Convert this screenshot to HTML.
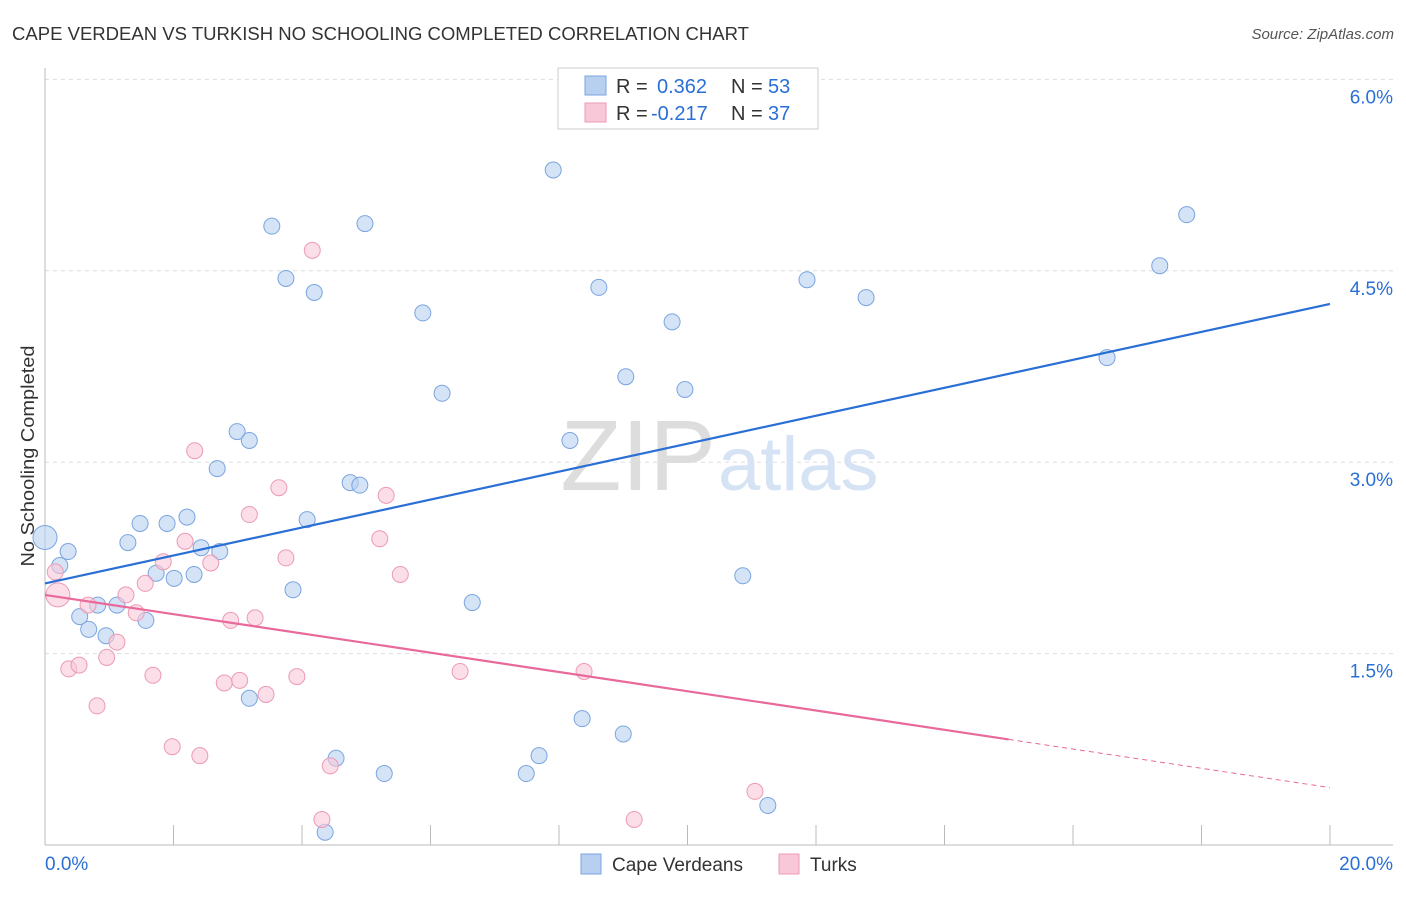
<!DOCTYPE html>
<html><head><meta charset="utf-8"><style>
body{margin:0;background:#fff;font-family:"Liberation Sans",sans-serif}
svg text{font-family:"Liberation Sans",sans-serif}
</style></head><body>
<svg id="chart" width="1406" height="892">
<text x="12" y="40" font-size="18" fill="#333" textLength="737" lengthAdjust="spacingAndGlyphs">CAPE VERDEAN VS TURKISH NO SCHOOLING COMPLETED CORRELATION CHART</text>
<text x="1394" y="39" font-size="15" fill="#555" text-anchor="end" font-style="italic">Source: ZipAtlas.com</text>
<text x="34" y="456" font-size="18" fill="#333" text-anchor="middle" textLength="221" lengthAdjust="spacingAndGlyphs" transform="rotate(-90 34 456)">No Schooling Completed</text>
<g id="grid"></g>
<text x="716" y="490" font-size="100" fill="#ddd" text-anchor="end" font-family="Liberation Serif">ZIP</text>
<text x="718" y="490" font-size="76" fill="#d5e3f5">atlas</text>
<g id="marks"></g>
<g>
<rect x="558" y="68" width="260" height="61" fill="#fff" stroke="#ccc"/>
<rect x="585" y="76" width="21" height="19" fill="#b8d0f0" stroke="#7aa5e0"/>
<rect x="585" y="103" width="21" height="19" fill="#f8c8d8" stroke="#ec9ab5"/>
<text x="616" y="93" font-size="20" fill="#333">R =</text>
<text x="657" y="93" font-size="20" fill="#2a6fd6">0.362</text>
<text x="731" y="93" font-size="20" fill="#333">N =</text>
<text x="768" y="93" font-size="20" fill="#2a6fd6">53</text>
<text x="616" y="120" font-size="20" fill="#333">R =</text>
<text x="651" y="120" font-size="20" fill="#2a6fd6">-0.217</text>
<text x="731" y="120" font-size="20" fill="#333">N =</text>
<text x="768" y="120" font-size="20" fill="#2a6fd6">37</text>
</g>
<g>
<rect x="581" y="854" width="20" height="20" fill="#b8d0f0" stroke="#7aa5e0"/>
<text x="612" y="871" font-size="19" fill="#333">Cape Verdeans</text>
<rect x="779" y="854" width="20" height="20" fill="#f8c8d8" stroke="#ec9ab5"/>
<text x="810" y="871" font-size="19" fill="#333">Turks</text>
</g>
</svg>
<script>
const yTicks=[1.5,3.0,4.5,6.0];
const xTickLabels=["0.0%","20.0%"];
const blueX=[0.00,0.36,0.23,0.54,0.68,0.82,0.95,1.12,1.57,1.29,1.48,1.73,1.90,2.01,2.21,2.32,2.43,2.72,2.68,2.99,3.18,3.53,3.75,4.19,3.86,4.08,4.53,4.36,4.75,4.90,4.98,5.28,5.88,6.18,6.65,7.49,7.69,7.91,8.17,8.36,8.62,9.00,9.04,9.76,9.96,10.86,11.25,11.86,12.78,16.53,17.35,17.77,3.18];
const blueY=[2.41,2.30,2.19,1.79,1.69,1.88,1.64,1.88,1.76,2.37,2.52,2.13,2.52,2.09,2.57,2.12,2.33,2.30,2.95,3.24,3.17,4.85,4.44,4.33,2.00,2.55,0.68,0.10,2.84,2.82,4.87,0.56,4.17,3.54,1.90,0.56,0.70,5.29,3.17,0.99,4.37,0.87,3.67,4.10,3.57,2.11,0.31,4.43,4.29,3.82,4.54,4.94,1.15];
const pinkX=[0.20,0.16,0.37,0.53,0.67,0.81,0.96,1.12,1.26,1.42,1.56,1.68,1.84,1.98,2.18,2.33,2.41,2.58,2.79,2.89,3.03,3.18,3.27,3.44,3.64,3.75,3.92,4.16,4.31,4.44,5.21,5.31,5.53,6.46,8.39,9.17,11.05];
const pinkY=[1.96,2.14,1.38,1.41,1.88,1.09,1.47,1.59,1.96,1.82,2.05,1.33,2.22,0.77,2.38,3.09,0.70,2.21,1.27,1.76,1.29,2.59,1.78,1.18,2.80,2.25,1.32,4.66,0.20,0.62,2.40,2.74,2.12,1.36,1.36,0.20,0.42];
const blueTrend=[2.05,4.24];
const pinkTrend=[1.96,0.45];
const pinkSolidEnd=15.0;
const NS="http://www.w3.org/2000/svg";
const X=v=>45+v*64.25, Y=v=>845-v*127.6;
function mk(t,a,p){const e=document.createElementNS(NS,t);for(const k in a)e.setAttribute(k,a[k]);p.appendChild(e);return e;}
const g=document.getElementById('grid'), m=document.getElementById('marks');
yTicks.forEach(t=>{
 const l=mk('line',{x1:45,x2:1393,y1:Y(t),y2:Y(t),stroke:'#ddd','stroke-dasharray':'4,4'},g);
 
 
 const tx=mk('text',{x:1393,y:Y(t)+24,'font-size':19,fill:'#2a6fd6','text-anchor':'end'},g);
 tx.textContent=t.toFixed(1)+'%';
 
 
});
const ax=mk('line',{x1:45,x2:45,y1:68,y2:845,stroke:'#bbb'},g);


const bx=mk('line',{x1:45,x2:1393,y1:845,y2:845,stroke:'#bbb'},g);


for(let i=0;i<=10;i++){const t=mk('line',{x1:X(i*2),x2:X(i*2),y1:825,y2:845,stroke:'#bbb'},g);
 
 }
[[0,'start',45],[20,'end',1393]].forEach((d,i)=>{const t=mk('text',{x:d[2],y:870,'font-size':19,fill:'#2a6fd6','text-anchor':d[1]},g);t.textContent=xTickLabels[i];
 
 });
function pts(xs,ys,fill,st,name){xs.forEach((x,i)=>{const c=mk('circle',{cx:X(x),cy:Y(ys[i]),r:i==0?12:8,fill:fill,'fill-opacity':0.6,stroke:st},m);
 
 });}
pts(blueX,blueY,'#b8d0f0','#7aa5e0','cape-verdean-point');
pts(pinkX,pinkY,'#f8c8d8','#ec9ab5','turks-point');
const bl=mk('line',{x1:X(0),y1:Y(blueTrend[0]),x2:X(20),y2:Y(blueTrend[1]),stroke:'#2a6fd6','stroke-width':2.2},m);


const py=x=>pinkTrend[0]+(pinkTrend[1]-pinkTrend[0])*x/20;
const pl=mk('line',{x1:X(0),y1:Y(py(0)),x2:X(pinkSolidEnd),y2:Y(py(pinkSolidEnd)),stroke:'#e8699a','stroke-width':2.2},m);


const pd=mk('line',{x1:X(pinkSolidEnd),y1:Y(py(pinkSolidEnd)),x2:X(20),y2:Y(py(20)),stroke:'#e8699a','stroke-width':1,'stroke-dasharray':'5,4'},m);


</script>
</body></html>
